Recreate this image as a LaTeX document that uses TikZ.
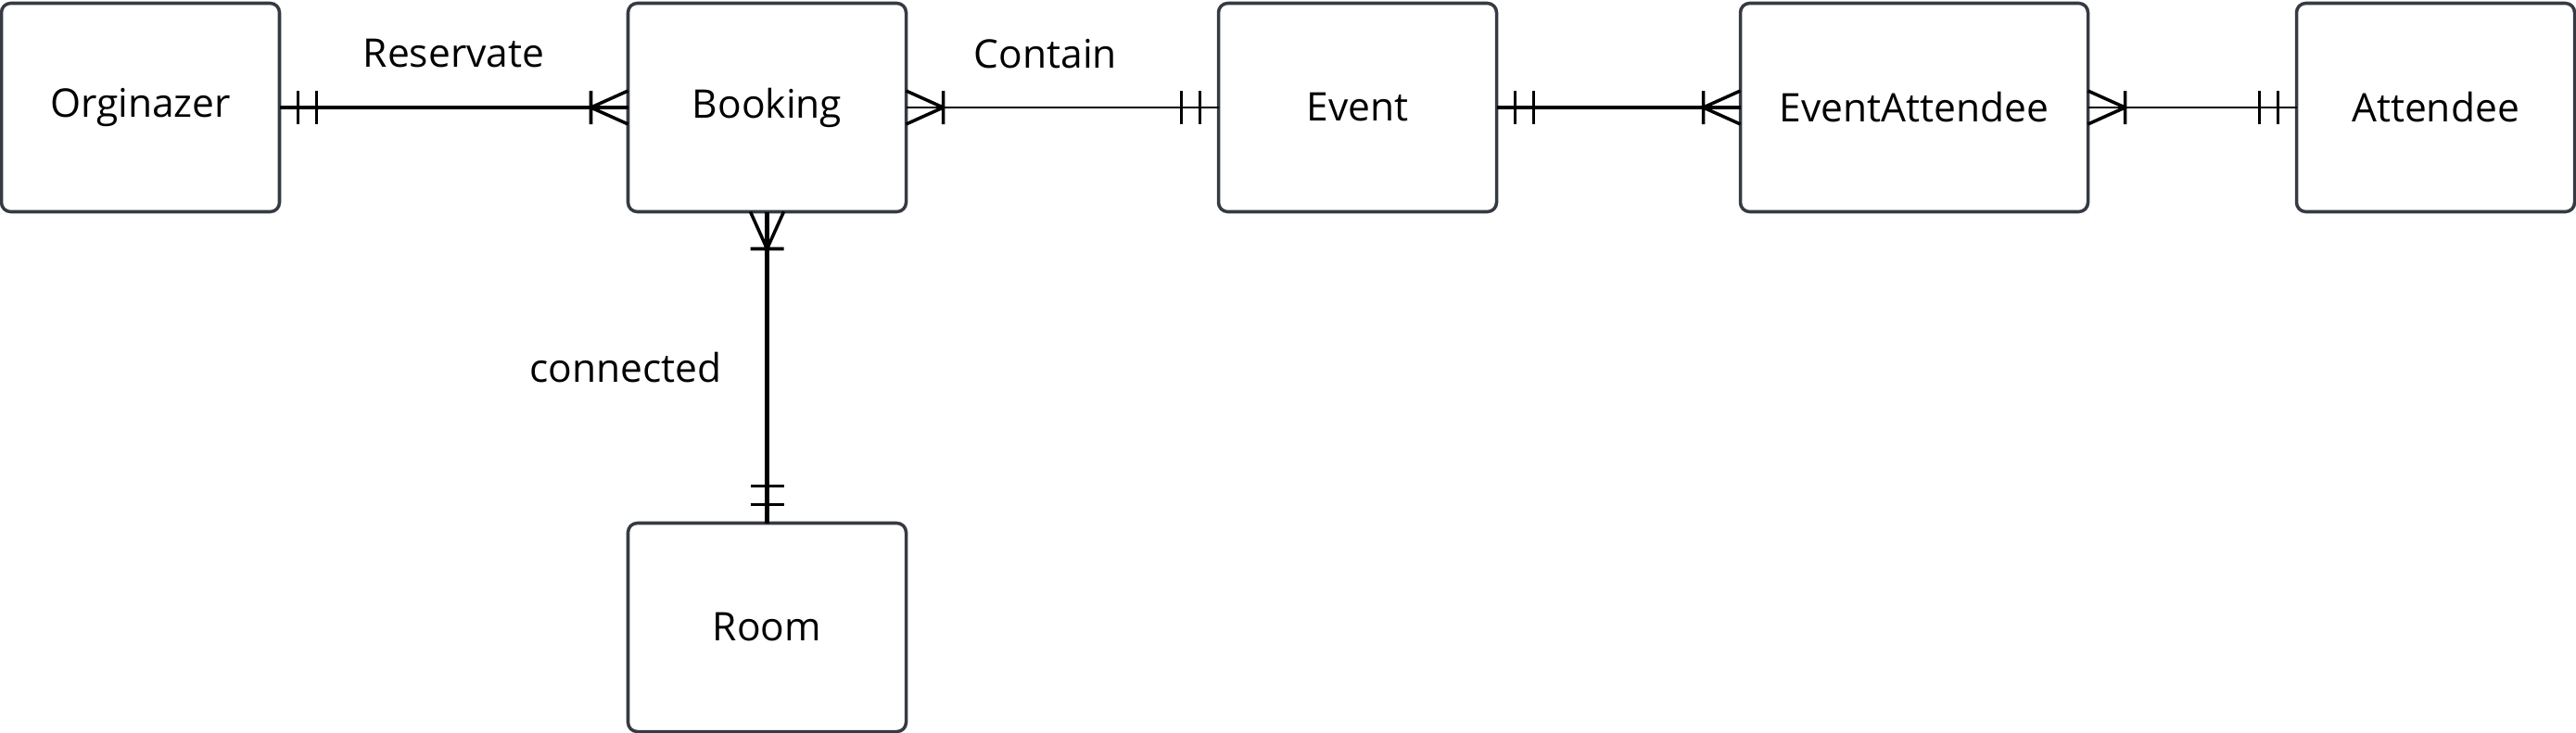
\documentclass[tikz,border=0pt]{standalone}
\usepackage{fontspec}
\setmainfont{Open Sans}
\usetikzlibrary{positioning,calc}
\definecolor{boxline}{HTML}{363A42}
\tikzset{%
  % entities
  entity/.style={draw=boxline, line width=1pt, rounded corners=0.1cm, fill=white,
    minimum width=3cm, minimum height=2.25cm, inner sep=0pt, outer sep=0pt,
    font=\fontsize{12.1}{14}\selectfont},
  wide/.style={entity, minimum width=3.75cm},
  % relationship lines
  rel/.style={line width=1.2pt},
  thinrel/.style={line width=0.8pt},
  crow/.style={line width=1pt},
  lbl/.style={inner sep=0pt, font=\fontsize{12.1}{14}\selectfont},
}
\newcommand{\exactlyone}[2]{%
  % #1 = anchor, #2 = direction away from the box
  \begin{scope}[shift={(#1)}, rotate=#2]
    \draw[crow] (0.2,0.18) -- (0.2,-0.18) (0.4,0.18) -- (0.4,-0.18);
  \end{scope}}
\newcommand{\oneormany}[2]{%
  % #1 = anchor, #2 = direction away from the box
  \begin{scope}[shift={(#1)}, rotate=#2]
    \draw[crow] (0,0.18) -- (0.4,0) -- (0,-0.18) (0.4,0.18) -- (0.4,-0.18);
  \end{scope}}
\begin{document}
\begin{tikzpicture}
  \useasboundingbox (0,0) rectangle (27.79,-7.91);
  % entities
  \node[entity] (org) at (1.515,-1.16) {Orginazer};
  \node[entity, right=3.76cm of org] (book) {Booking};
  \node[entity, right=3.37cm of book] (event) {Event};
  \node[wide, right=2.63cm of event] (evatt) {EventAttendee};
  \node[entity, right=2.25cm of evatt] (att) {Attendee};
  \node[entity, below=3.36cm of book] (room) {Room};

  % relationships
  \draw[rel] (org) -- node[lbl, yshift=0.58cm] {Reservate} (book);
  \draw[thinrel] (book) -- node[lbl, xshift=-0.18cm, yshift=0.58cm] {Contain} (event);
  \draw[rel] (event) -- (evatt);
  \draw[thinrel] (evatt) -- (att);
  \draw[rel] (book) -- node[lbl, left=0.47cm] {connected} (room);

  % cardinalities
  \exactlyone{org.east}{0}
  \oneormany{book.west}{180}
  \oneormany{book.east}{0}
  \exactlyone{event.west}{180}
  \exactlyone{event.east}{0}
  \oneormany{evatt.west}{180}
  \oneormany{evatt.east}{0}
  \exactlyone{att.west}{180}
  \oneormany{book.south}{-90}
  \exactlyone{room.north}{90}
\end{tikzpicture}
\end{document}
